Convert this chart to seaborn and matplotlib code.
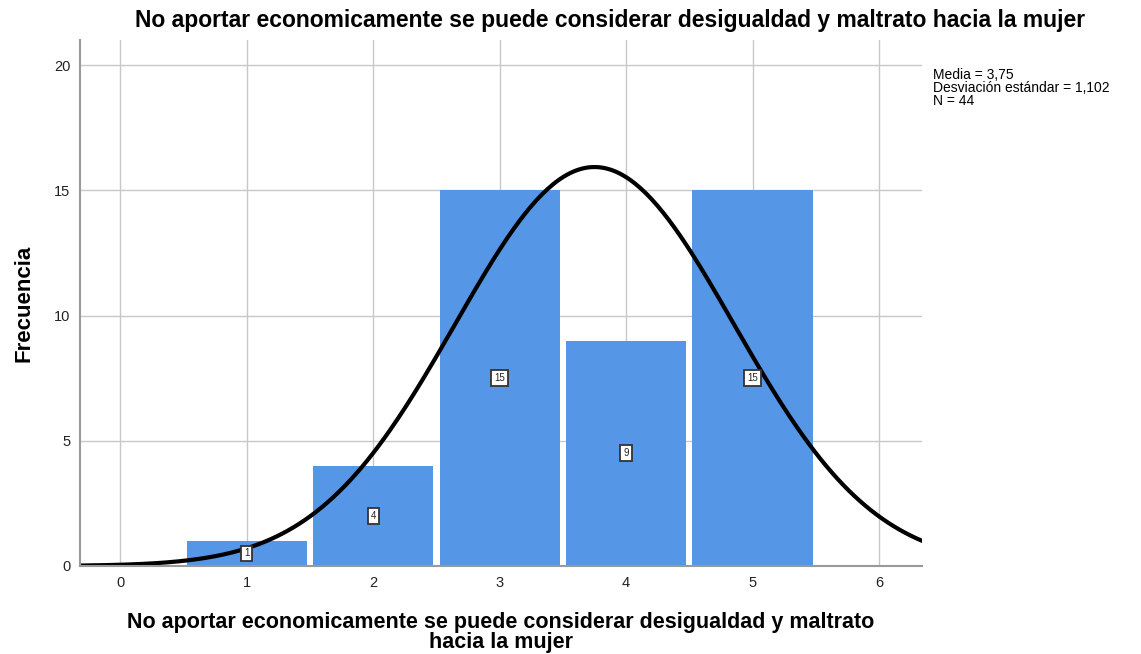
import numpy as np
import pandas as pd
import matplotlib
matplotlib.use("Agg")
import matplotlib.pyplot as plt
import seaborn as sns

# --- DATA ---
valores = [1, 2, 3, 4, 5]
frecuencias = [1, 4, 15, 9, 15]
media = 3.75
desv = 1.102
n_total = 44

titulo = "No aportar economicamente se puede considerar desigualdad y maltrato hacia la mujer"
xlabel = "No aportar economicamente se puede considerar desigualdad y maltrato\nhacia la mujer"

sns.set_theme(style="whitegrid")
plt.rcParams["font.family"] = ["Liberation Sans", "DejaVu Sans"]
plt.rcParams["text.color"] = "black"
plt.rcParams["axes.labelcolor"] = "black"

df = pd.DataFrame({"valor": valores, "frecuencia": frecuencias})

fig = plt.figure(figsize=(11.41, 6.54), dpi=100)
ax = fig.add_axes([0.0701, 0.1346, 0.7379, 0.8042])

sns.histplot(data=df, x="valor", weights="frecuencia", discrete=True, shrink=0.95,
             color="#5596E6", alpha=1, edgecolor="none", ax=ax)

# normal curve from the reported statistics
xs = np.linspace(-0.32, 6.34, 300)
ys = n_total / (desv * np.sqrt(2 * np.pi)) * np.exp(-0.5 * ((xs - media) / desv) ** 2)
sns.lineplot(x=xs, y=ys, color="black", linewidth=3, ax=ax)

# labels in the middle of each bar
for v, f in zip(valores, frecuencias):
    ax.text(v, f / 2, str(f), ha="center", va="center", fontsize=7, color="#222222",
            bbox=dict(boxstyle="square,pad=0.3", fc="white", ec="#333333", lw=1.3), zorder=5)

ax.set_xlim(-0.32, 6.34)
ax.set_ylim(0, 21)
ax.set_xticks(range(0, 7))
ax.set_yticks([0, 5, 10, 15, 20])
ax.grid(True, color="#C8C8C8", linewidth=1)
ax.set_axisbelow(True)
ax.tick_params(axis="both", labelsize=10.5, colors="#222222", length=0, pad=7)

for s in ["top", "right"]:
    ax.spines[s].set_visible(False)
for s in ["left", "bottom"]:
    ax.spines[s].set_visible(True)
    ax.spines[s].set_color("#999999")
    ax.spines[s].set_linewidth(1.5)

ax.set_ylabel("Frecuencia", fontsize=16, fontweight="bold", labelpad=14)
ax.set_xlabel(xlabel, fontsize=15.5, fontweight="bold", linespacing=0.95, labelpad=16)

fig.text(610 / 1141, 1 - 20 / 654, titulo, ha="center", va="center",
         fontsize=16.5, fontweight="bold")

fig.text(933 / 1141, 1 - 68 / 654,
         f"Media = {media:.2f}".replace(".", ",") + "\n"
         + f"Desviación estándar = {desv:.3f}".replace(".", ",") + "\n"
         + f"N = {n_total}",
         ha="left", va="top", fontsize=10, linespacing=0.92)

fig.savefig("out.png", dpi=100)
